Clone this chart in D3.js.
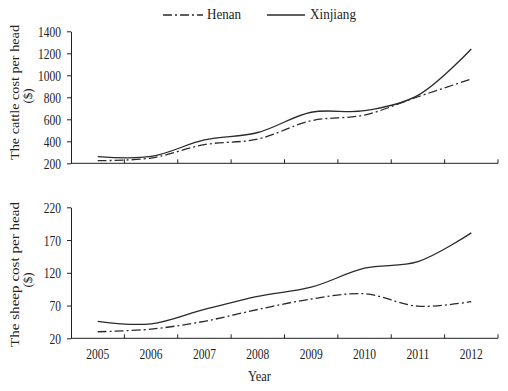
<!DOCTYPE html>
<html>
<head>
<meta charset="utf-8">
<script src="https://cdn.jsdelivr.net/npm/d3@7"></script>
<style>
  body { margin: 0; background: #fff; }
  svg text { font-family: "Liberation Serif", "Times New Roman", serif; fill: #222; }
  .domain, .tick line { stroke: #222; }
</style>
</head>
<body>
<svg id="chart" width="508" height="391"></svg>
<script>
// data
var years = ["2005", "2006", "2007", "2008", "2009", "2010", "2011", "2012"];
var cattleHenan    = [224, 248, 370, 420, 587, 639, 805, 966];
var cattleXinjiang = [260, 262, 412, 480, 664, 678, 818, 1239];
var sheepHenan     = [30, 34, 46, 64, 80, 88, 69, 76];
var sheepXinjiang  = [46, 42, 64, 84, 98, 127, 137, 181];
var cattleTicks = [200, 400, 600, 800, 1000, 1200, 1400];
var sheepTicks  = [20, 70, 120, 170, 220];

var svg = d3.select("#chart");
var left = 71, right = 498;

var x = d3.scaleBand().domain(years).range([left, right]).padding(0);
var bw = x.bandwidth();

var henanDash = "9,3,2,3";
var digitW = 5.75;   // the source font is narrow and tall

function squeeze(sel) {
    sel.attr("textLength", function() { return this.textContent.length * digitW; })
       .attr("lengthAdjust", "spacingAndGlyphs");
}

function panel(cfg) {
    var y = d3.scaleLinear().domain(cfg.domain).range([cfg.bottom, cfg.top]);
    var g = svg.append("g");

    // y axis
    g.append("g")
        .attr("transform", "translate(" + left + ",0)")
        .call(d3.axisLeft(y).tickValues(cfg.ticks).tickFormat(d3.format("d"))
            .tickSize(4).tickSizeOuter(0).tickPadding(6))
        .call(function(a) {
            a.selectAll("text").style("font-size", "14px").attr("dy", "0.36em").call(squeeze);
        });

    // x axis line + ticks between categories (pointing up)
    var xa = g.append("g").attr("transform", "translate(0," + cfg.bottom + ")");
    xa.append("line").attr("x1", left).attr("x2", right).attr("stroke", "#222");
    xa.selectAll(".bt").data(years).enter().append("line")
        .attr("x1", function(d) { return x(d) + bw; })
        .attr("x2", function(d) { return x(d) + bw; })
        .attr("y1", 0).attr("y2", -4)
        .attr("stroke", "#222");

    if (cfg.labels) {
        xa.selectAll(".lbl").data(years).enter().append("text")
            .attr("x", function(d) { return x(d) + bw / 2 - 11.5; })
            .attr("y", 21)
            .style("font-size", "14px")
            .text(function(d) { return d; })
            .call(squeeze);
    }

    var line = d3.line()
        .x(function(d, i) { return x(years[i]) + bw / 2; })
        .y(function(d) { return y(d); })
        .curve(d3.curveCatmullRom.alpha(0.5));

    g.append("path").datum(cfg.henan)
        .attr("d", line).attr("fill", "none")
        .attr("stroke", "#2a2a2a").attr("stroke-width", 1.3)
        .attr("stroke-dasharray", henanDash);
    g.append("path").datum(cfg.xinjiang)
        .attr("d", line).attr("fill", "none")
        .attr("stroke", "#2a2a2a").attr("stroke-width", 1.3);

    // y title, two lines
    g.append("text")
        .attr("transform", "translate(19," + (cfg.titleY + cfg.titleLen / 2) + ") rotate(-90)")
        .attr("textLength", cfg.titleLen).attr("lengthAdjust", "spacingAndGlyphs")
        .style("font-size", "13px")
        .text(cfg.title);
    g.append("text")
        .attr("transform", "translate(32," + cfg.unitY + ") rotate(-90)")
        .attr("text-anchor", "middle")
        .style("font-size", "13px")
        .text("($)");
}

panel({ domain: [200, 1400], ticks: cattleTicks, top: 31.3, bottom: 163.3,
        henan: cattleHenan, xinjiang: cattleXinjiang,
        title: "The cattle cost per head", titleLen: 135, titleY: 92.5, unitY: 96,
        labels: false });
panel({ domain: [20, 220], ticks: sheepTicks, top: 207.3, bottom: 338.3,
        henan: sheepHenan, xinjiang: sheepXinjiang,
        title: "The sheep cost per head", titleLen: 145, titleY: 274.5, unitY: 280,
        labels: true });

// x title
svg.append("text")
    .attr("x", 248).attr("y", 381)
    .attr("textLength", 23).attr("lengthAdjust", "spacingAndGlyphs")
    .style("font-size", "14px")
    .text("Year");

// legend
var legend = svg.append("g");
legend.append("line").attr("x1", 163).attr("x2", 203).attr("y1", 15).attr("y2", 15)
    .attr("stroke", "#2a2a2a").attr("stroke-width", 1.3).attr("stroke-dasharray", henanDash);
legend.append("text").attr("x", 207).attr("y", 19)
    .attr("textLength", 34).attr("lengthAdjust", "spacingAndGlyphs")
    .style("font-size", "14px").text("Henan");
legend.append("line").attr("x1", 267).attr("x2", 305).attr("y1", 15).attr("y2", 15)
    .attr("stroke", "#2a2a2a").attr("stroke-width", 1.3);
legend.append("text").attr("x", 310).attr("y", 19)
    .attr("textLength", 46).attr("lengthAdjust", "spacingAndGlyphs")
    .style("font-size", "14px").text("Xinjiang");
</script>
</body>
</html>
